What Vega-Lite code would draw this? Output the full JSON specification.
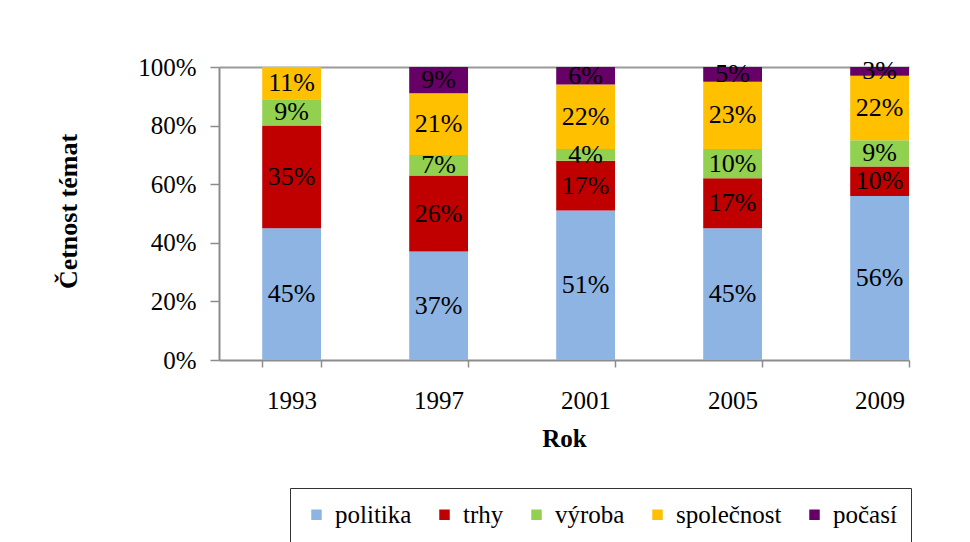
{
  "$schema": "https://vega.github.io/schema/vega-lite/v6.json",
  "width": 690,
  "height": 293,
  "autosize": {"type": "none"},
  "padding": {"left": 219, "top": 67, "right": 61, "bottom": 182},
  "background": "white",
  "data": {
    "values": [
      {"rok": "1993", "tema": "politika", "ord": 1, "podil": 0.45},
      {"rok": "1993", "tema": "trhy", "ord": 2, "podil": 0.35},
      {"rok": "1993", "tema": "výroba", "ord": 3, "podil": 0.09},
      {"rok": "1993", "tema": "společnost", "ord": 4, "podil": 0.11},
      {"rok": "1997", "tema": "politika", "ord": 1, "podil": 0.37},
      {"rok": "1997", "tema": "trhy", "ord": 2, "podil": 0.26},
      {"rok": "1997", "tema": "výroba", "ord": 3, "podil": 0.07},
      {"rok": "1997", "tema": "společnost", "ord": 4, "podil": 0.21},
      {"rok": "1997", "tema": "počasí", "ord": 5, "podil": 0.09},
      {"rok": "2001", "tema": "politika", "ord": 1, "podil": 0.51},
      {"rok": "2001", "tema": "trhy", "ord": 2, "podil": 0.17},
      {"rok": "2001", "tema": "výroba", "ord": 3, "podil": 0.04},
      {"rok": "2001", "tema": "společnost", "ord": 4, "podil": 0.22},
      {"rok": "2001", "tema": "počasí", "ord": 5, "podil": 0.06},
      {"rok": "2005", "tema": "politika", "ord": 1, "podil": 0.45},
      {"rok": "2005", "tema": "trhy", "ord": 2, "podil": 0.17},
      {"rok": "2005", "tema": "výroba", "ord": 3, "podil": 0.10},
      {"rok": "2005", "tema": "společnost", "ord": 4, "podil": 0.23},
      {"rok": "2005", "tema": "počasí", "ord": 5, "podil": 0.05},
      {"rok": "2009", "tema": "politika", "ord": 1, "podil": 0.56},
      {"rok": "2009", "tema": "trhy", "ord": 2, "podil": 0.10},
      {"rok": "2009", "tema": "výroba", "ord": 3, "podil": 0.09},
      {"rok": "2009", "tema": "společnost", "ord": 4, "podil": 0.22},
      {"rok": "2009", "tema": "počasí", "ord": 5, "podil": 0.03}
    ]
  },
  "encoding": {
    "x": {
      "field": "rok",
      "type": "nominal",
      "scale": {"paddingInner": 0.6, "paddingOuter": 0.147, "align": 1},
      "axis": {
        "title": "Rok",
        "labelAngle": 0,
        "tickBand": "extent",
        "tickSize": 7,
        "labelBaseline": "middle",
        "labelPadding": 33,
        "titleY": 78,
        "titleBaseline": "middle",
        "labelFont": "Times New Roman"
      }
    },
    "y": {
      "field": "podil",
      "type": "quantitative",
      "stack": "zero",
      "scale": {"domain": [0, 1], "nice": false},
      "axis": {
        "title": "Četnost témat",
        "values": [0, 0.2, 0.4, 0.6, 0.8, 1],
        "format": ".0%",
        "tickSize": 9,
        "labelPadding": 14,
        "grid": true,
        "gridColor": {"condition": {"test": "datum.value >= 0.999", "value": "#9a9a9a"}, "value": "transparent"},
        "gridWidth": 2,
        "titleX": -151,
        "titleY": 144,
        "titleBaseline": "middle",
        "titleFontSize": 26,
        "labelFont": "serif"
      }
    },
    "order": {"field": "ord", "type": "quantitative"}
  },
  "layer": [
    {
      "mark": {"type": "bar"},
      "encoding": {
        "color": {
          "field": "tema",
          "type": "nominal",
          "scale": {
            "domain": ["politika", "trhy", "výroba", "společnost", "počasí"],
            "range": ["#8EB4E3", "#C00000", "#92D050", "#FFC000", "#660066"]
          },
          "legend": {
            "orient": "none",
            "legendX": 71,
            "legendY": 421,
            "direction": "horizontal",
            "title": null,
            "strokeColor": "#333333",
            "padding": 14,
            "symbolType": "square",
            "symbolSize": 110,
            "symbolStrokeWidth": 0,
            "labelFontSize": 25,
            "labelFont": "Liberation Serif",
            "labelColor": "black",
            "labelOffset": 6,
            "columnPadding": 20
          }
        }
      }
    },
    {
      "mark": {"type": "text", "font": "'Liberation Serif'", "fontSize": 26, "color": "black", "baseline": "middle"},
      "encoding": {
        "y": {"field": "podil", "type": "quantitative", "stack": "zero", "bandPosition": 0.5},
        "text": {"field": "podil", "type": "quantitative", "format": ".0%"}
      }
    }
  ],
  "config": {
    "view": {"stroke": null},
    "axis": {
      "labelFontSize": 25,
      "labelColor": "black",
      "titleFont": "Liberation Serif",
      "titleFontSize": 25,
      "titleFontWeight": "bold",
      "titleColor": "black",
      "domainColor": "#8c8c8c",
      "domainWidth": 2,
      "tickColor": "#8c8c8c",
      "tickWidth": 1.5
    }
  }
}
